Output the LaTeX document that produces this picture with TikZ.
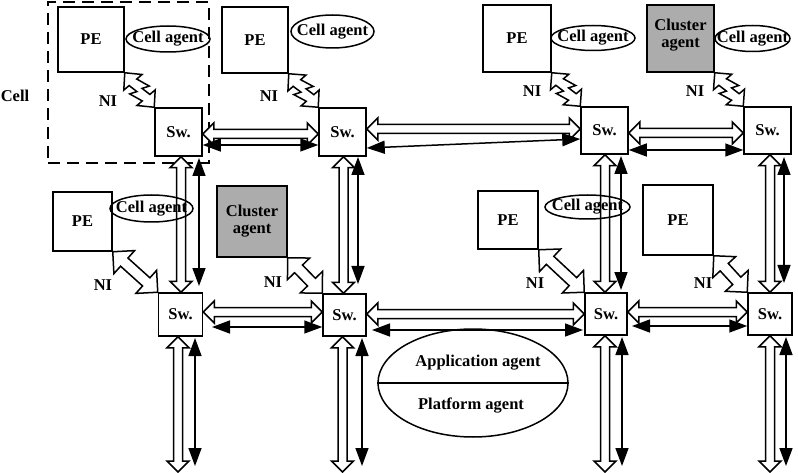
\documentclass[tikz,border=0pt]{standalone}
\usepackage{fontspec}
\setmainfont{Liberation Serif}
\usetikzlibrary{calc,arrows.meta,shapes.geometric}
\definecolor{clgray}{RGB}{172,172,172}

\tikzset{
  lbl/.style={font=\fontsize{16.5}{18}\selectfont\bfseries, inner sep=0pt},
  box/.style={draw, line width=1.5pt, inner sep=0pt, lbl},
  cluster/.style={box, fill=clgray, align=center},
  swbox/.style={box},
  agent/.style={draw, ellipse, line width=1.5pt, inner sep=0pt},
  cellframe/.style={draw, line width=1.5pt, dash pattern=on 12pt off 7pt},
  % filled-head two-way link
  duplex/.style={draw, line width=1.5pt,
    {Triangle[length=18pt,width=13pt]}-{Triangle[length=18pt,width=13pt]}},
  % hollow two-way block arrow, drawn as an outline between the two end points
  hollow/.style={draw, fill=white, line width=1.5pt, line join=miter,
    /utils/exec={\def\aHL{11pt}\def\aHW{11pt}\def\aSW{4.5pt}},
    to path={
      -- ($($(\tikztostart)!\aHL!(\tikztotarget)$)!\aHW!90:(\tikztotarget)$)
      -- ($($(\tikztostart)!\aHL!(\tikztotarget)$)!\aSW!90:(\tikztotarget)$)
      -- ($($(\tikztotarget)!\aHL!(\tikztostart)$)!\aSW!-90:(\tikztostart)$)
      -- ($($(\tikztotarget)!\aHL!(\tikztostart)$)!\aHW!-90:(\tikztostart)$)
      -- (\tikztotarget)
      -- ($($(\tikztotarget)!\aHL!(\tikztostart)$)!\aHW!90:(\tikztostart)$)
      -- ($($(\tikztotarget)!\aHL!(\tikztostart)$)!\aSW!90:(\tikztostart)$)
      -- ($($(\tikztostart)!\aHL!(\tikztotarget)$)!\aSW!-90:(\tikztotarget)$)
      -- ($($(\tikztostart)!\aHL!(\tikztotarget)$)!\aHW!-90:(\tikztotarget)$)
      -- cycle}},
  niarrow/.style={hollow,
    /utils/exec={\def\aHL{15.5pt}\def\aHW{15.5pt}\def\aSW{5.5pt}}},
  % zig-zag network interface link
  nizig/.style={draw, fill=white, line width=1.5pt, line join=miter,
    to path={
      -- ($($(\tikztostart)!0.277!(\tikztotarget)$)!12pt!90:(\tikztotarget)$)
      -- ($($(\tikztostart)!0.277!(\tikztotarget)$)!5pt!90:(\tikztotarget)$)
      -- ($($(\tikztostart)!0.575!(\tikztotarget)$)!10pt!90:(\tikztotarget)$)
      -- ($($(\tikztostart)!0.51!(\tikztotarget)$)!3pt!90:(\tikztotarget)$)
      -- ($($(\tikztostart)!0.723!(\tikztotarget)$)!5pt!90:(\tikztotarget)$)
      -- ($($(\tikztostart)!0.723!(\tikztotarget)$)!12pt!90:(\tikztotarget)$)
      -- (\tikztotarget)
      -- ($($(\tikztostart)!0.723!(\tikztotarget)$)!12pt!-90:(\tikztotarget)$)
      -- ($($(\tikztostart)!0.723!(\tikztotarget)$)!5pt!-90:(\tikztotarget)$)
      -- ($($(\tikztostart)!0.425!(\tikztotarget)$)!10pt!-90:(\tikztotarget)$)
      -- ($($(\tikztostart)!0.49!(\tikztotarget)$)!3pt!-90:(\tikztotarget)$)
      -- ($($(\tikztostart)!0.277!(\tikztotarget)$)!5pt!-90:(\tikztotarget)$)
      -- ($($(\tikztostart)!0.277!(\tikztotarget)$)!12pt!-90:(\tikztotarget)$)
      -- cycle}},
}

\begin{document}
\begin{tikzpicture}[x=1pt,y=-1pt]
\useasboundingbox (0,0) rectangle (798,473);

% cell outline
\node[cellframe, minimum width=161pt, minimum height=161pt] (cell) at (128.5,82.5) {};
\node[lbl] (celltxt) at (15,96) {Cell};

% processing elements and cluster agents
\node[box, minimum width=66pt, minimum height=65pt] (pe1) at (91,39.5) {PE};
\node[box, minimum width=66pt, minimum height=66pt] (pe2) at (255,40) {PE};
\node[box, minimum width=68pt, minimum height=67pt] (pe3) at (517,38.5) {PE};
\node[cluster, minimum width=67pt, minimum height=67pt] (cl1) at (680.5,38.5) {};
\node[lbl, align=center] (cl1t) at (680.5,35) {Cluster\\[-1pt]agent};
\node[box, minimum width=59pt, minimum height=59pt] (pe5) at (82.5,221.5) {PE};
\node[cluster, minimum width=70pt, minimum height=71pt] (cl2) at (252,221.5) {Cluster\\[-1pt]agent};
\node[box, minimum width=60pt, minimum height=58pt] (pe7) at (508,220) {PE};
\node[box, minimum width=70pt, minimum height=70pt] (pe8) at (678,220) {PE};

% switches
\node[swbox, minimum width=47pt, minimum height=48pt] (s1t) at (178.5,132) {Sw.};
\node[swbox, minimum width=47pt, minimum height=48pt] (s2t) at (342.5,132) {Sw.};
\node[swbox, minimum width=47pt, minimum height=47pt] (s3t) at (604.5,130.5) {Sw.};
\node[swbox, minimum width=47pt, minimum height=47pt] (s4t) at (767.5,130.5) {Sw.};
\node[swbox, minimum width=44pt, minimum height=43pt] (s1b) at (180.5,314.5) {Sw.};
\node[swbox, minimum width=43pt, minimum height=42pt] (s2b) at (344.5,315) {Sw.};
\node[swbox, minimum width=42pt, minimum height=42pt] (s3b) at (606,314) {Sw.};
\node[swbox, minimum width=44pt, minimum height=42pt] (s4b) at (770,314) {Sw.};

% end points of the links
\coordinate (ha1a) at (s1t.east |- 0,134);
\coordinate (ha1b) at (s2t.west |- 0,134);
\coordinate (ha2a) at (s2t.east |- 0,129);
\coordinate (ha2b) at (s3t.west |- 0,129);
\coordinate (ha3a) at (s3t.east |- 0,133);
\coordinate (ha3b) at (s4t.west |- 0,133);
\coordinate (fa1a) at (s1t.east |- 0,145);
\coordinate (fa1b) at (s2t.west |- 0,145);
\coordinate (fa2a) at (s2t.east |- 0,148);
\coordinate (fa2b) at (s3t.west |- 0,139);
\coordinate (fa3a) at (s3t.east |- 0,150);
\coordinate (fa3b) at (s4t.west |- 0,150);

\coordinate (hb1a) at (s1b.east |- 0,312);
\coordinate (hb1b) at (s2b.west |- 0,312);
\coordinate (hb2a) at (s2b.east |- 0,314);
\coordinate (hb2b) at (s3b.west |- 0,314);
\coordinate (hb3a) at (s3b.east |- 0,312);
\coordinate (hb3b) at (s4b.west |- 0,312);
\coordinate (fb1a) at (212,327);
\coordinate (fb1b) at (s2b.west |- 0,327);
\coordinate (fb2a) at (372,330);
\coordinate (fb2b) at (583,330);
\coordinate (fb3a) at (632,326);
\coordinate (fb3b) at (s4b.west |- 0,326);

\coordinate (hv1a) at (s1t.south -| 181,0);
\coordinate (hv1b) at (s1b.north -| 181,0);
\coordinate (hv2a) at (s2t.south -| 343.5,0);
\coordinate (hv2b) at (s2b.north -| 343.5,0);
\coordinate (hv3a) at (s3t.south -| 605,0);
\coordinate (hv3b) at (s3b.north -| 605,0);
\coordinate (hv4a) at (s4t.south -| 770,0);
\coordinate (hv4b) at (s4b.north -| 770,0);
\coordinate (fv1a) at (199,158);
\coordinate (fv1b) at (199,286);
\coordinate (fv2a) at (358,157);
\coordinate (fv2b) at (358,284);
\coordinate (fv3a) at (621,156);
\coordinate (fv3b) at (621,290);
\coordinate (fv4a) at (784,157);
\coordinate (fv4b) at (784,283);

\coordinate (hd1a) at (s1b.south -| 178,0);
\coordinate (hd1b) at (178,472);
\coordinate (hd2a) at (s2b.south -| 342.5,0);
\coordinate (hd2b) at (342.5,472);
\coordinate (hd3a) at (s3b.south -| 605,0);
\coordinate (hd3b) at (605,472);
\coordinate (hd4a) at (s4b.south -| 770,0);
\coordinate (hd4b) at (770,472);
\coordinate (fd1a) at (195,338);
\coordinate (fd1b) at (195,466);
\coordinate (fd2a) at (362,338);
\coordinate (fd2b) at (362,466);
\coordinate (fd3a) at (622,337);
\coordinate (fd3b) at (622,466);
\coordinate (fd4a) at (786,337);
\coordinate (fd4b) at (786,466);

% horizontal links
\draw[hollow] (ha1a) to (ha1b);
\draw[hollow] (ha2a) to (ha2b);
\draw[hollow] (ha3a) to (ha3b);
\draw[duplex] (fa1a) -- (fa1b);
\draw[duplex] (fa2a) -- (fa2b);
\draw[duplex] (fa3a) -- (fa3b);
\draw[hollow] (hb1a) to (hb1b);
\draw[hollow] (hb2a) to (hb2b);
\draw[hollow] (hb3a) to (hb3b);
\draw[duplex] (fb1a) -- (fb1b);
\draw[duplex] (fb2a) -- (fb2b);
\draw[duplex] (fb3a) -- (fb3b);

% vertical links
\draw[hollow] (hv1a) to (hv1b);
\draw[hollow] (hv2a) to (hv2b);
\draw[hollow] (hv3a) to (hv3b);
\draw[hollow] (hv4a) to (hv4b);
\draw[duplex] (fv1a) -- (fv1b);
\draw[duplex] (fv2a) -- (fv2b);
\draw[duplex] (fv3a) -- (fv3b);
\draw[duplex] (fv4a) -- (fv4b);
\draw[hollow] (hd1a) to (hd1b);
\draw[hollow] (hd2a) to (hd2b);
\draw[hollow] (hd3a) to (hd3b);
\draw[hollow] (hd4a) to (hd4b);
\draw[duplex] (fd1a) -- (fd1b);
\draw[duplex] (fd2a) -- (fd2b);
\draw[duplex] (fd3a) -- (fd3b);
\draw[duplex] (fd4a) -- (fd4b);

% network interfaces
\draw[nizig] (pe1.south east) to (s1t.north west);
\draw[nizig] (pe2.south east) to (s2t.north west);
\draw[nizig] (pe3.south east) to (s3t.north west);
\draw[nizig] (cl1.south east) to (s4t.north west);
\draw[niarrow] (pe5.south east) to (s1b.north west);
\draw[niarrow] (cl2.south east) to (s2b.north west);
\draw[niarrow] (pe7.south east) to (s3b.north west);
\draw[niarrow] (pe8.south east) to (s4b.north west);

\node[lbl] (ni1) at (108,101) {NI};
\node[lbl] (ni2) at (269,96) {NI};
\node[lbl] (ni3) at (532,91) {NI};
\node[lbl] (ni4) at (695,91) {NI};
\node[lbl] (ni5) at (103,285) {NI};
\node[lbl] (ni6) at (273,282) {NI};
\node[lbl] (ni7) at (535,283) {NI};
\node[lbl] (ni8) at (703,283) {NI};

% cell agents
\node[agent, minimum width=84pt, minimum height=26pt] (ca1) at (168,39) {};
\node[agent, minimum width=83pt, minimum height=33pt] (ca2) at (332.5,31.5) {};
\node[agent, minimum width=84pt, minimum height=25pt] (ca3) at (593,38) {};
\node[agent, minimum width=75pt, minimum height=26pt] (ca4) at (752.5,38.5) {};
\node[agent, minimum width=83pt, minimum height=27pt] (ca5) at (151.5,208.5) {};
\node[agent, minimum width=85pt, minimum height=24pt] (ca6) at (587.5,207) {};
\node[lbl] (ca1t) at (ca1) {Cell agent};
\node[lbl] (ca2t) at (ca2) {Cell agent};
\node[lbl] (ca3t) at (ca3) {Cell agent};
\node[lbl] (ca4t) at (ca4) {Cell agent};
\node[lbl] (ca5t) at (ca5) {Cell agent};
\node[lbl] (ca6t) at (ca6) {Cell agent};

% application / platform agent
\node[agent, minimum width=190pt, minimum height=108pt] (apa) at (473,383) {};
\draw[line width=1.5pt] (apa.west) -- (apa.east);
\node[lbl] (appt) at (478,363) {Application agent};
\node[lbl] (plat) at (471,406) {Platform agent};

\end{tikzpicture}
\end{document}
